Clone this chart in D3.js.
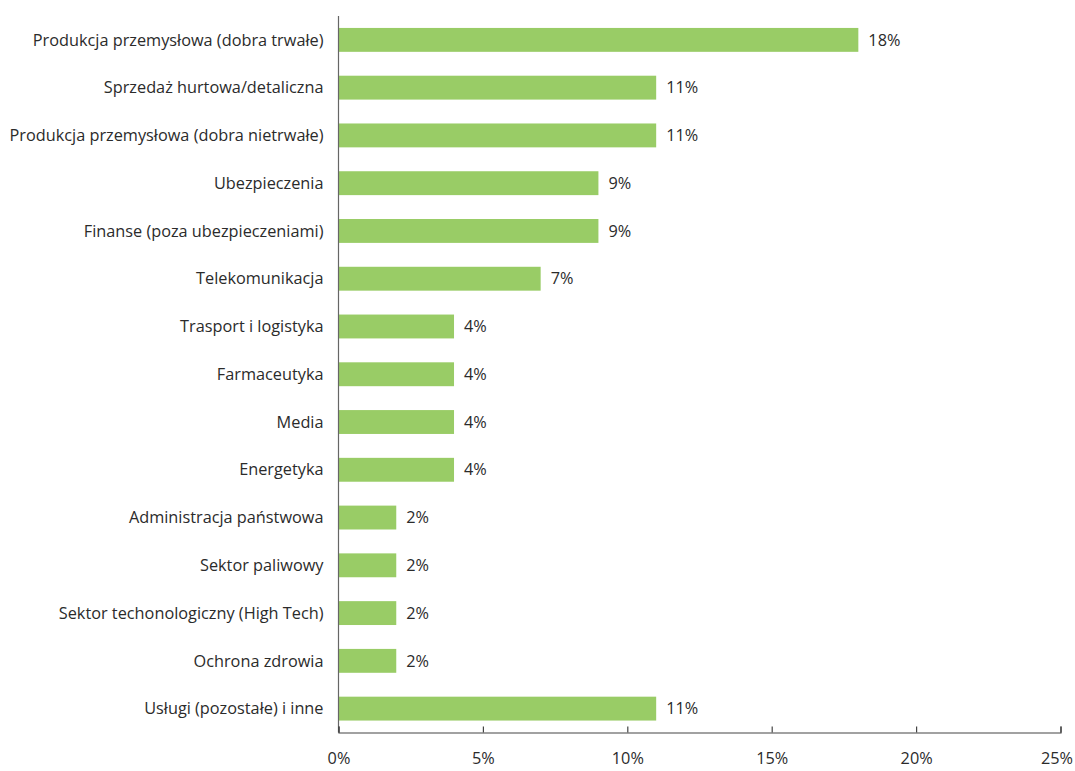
<!DOCTYPE html>
<html>
<head>
<meta charset="utf-8">
<script src="https://cdn.jsdelivr.net/npm/d3@7"></script>
<style>
  html, body { margin: 0; padding: 0; background: #fff; }
  svg { display: block; font-family: "Open Sans", "Noto Sans", sans-serif; }
</style>
</head>
<body>
<svg id="chart" width="1075" height="771"></svg>
<script>
// Sector breakdown (share of total, %)
const categories = [
  "Produkcja przemysłowa (dobra trwałe)",
  "Sprzedaż hurtowa/detaliczna",
  "Produkcja przemysłowa (dobra nietrwałe)",
  "Ubezpieczenia",
  "Finanse (poza ubezpieczeniami)",
  "Telekomunikacja",
  "Trasport i logistyka",
  "Farmaceutyka",
  "Media",
  "Energetyka",
  "Administracja państwowa",
  "Sektor paliwowy",
  "Sektor techonologiczny (High Tech)",
  "Ochrona zdrowia",
  "Usługi (pozostałe) i inne"
];
const values = [18, 11, 11, 9, 9, 7, 4, 4, 4, 4, 2, 2, 2, 2, 11];
const tickValues = [0, 5, 10, 15, 20, 25];

const svg = d3.select("#chart");
const x0 = 338.5, x1 = 1060.5, yTop = 16, yBottom = 732.5;

const x = d3.scaleLinear().domain([0, 25]).range([x0, x1]);
const y = d3.scaleBand().domain(categories).range([yTop, yBottom])
  .paddingInner(0.5).paddingOuter(0.25);

const data = categories.map((c, i) => ({ c, v: values[i] }));

// bars
svg.append("g").selectAll("rect").data(data).join("rect")
  .attr("x", x(0))
  .attr("y", d => y(d.c))
  .attr("width", d => x(d.v) - x(0))
  .attr("height", y.bandwidth())
  .attr("fill", "#99CC66");

// value labels
svg.append("g").selectAll("text").data(data).join("text")
  .attr("x", d => x(d.v) + 10)
  .attr("y", d => y(d.c) + y.bandwidth() / 2)
  .attr("dy", "0.35em")
  .attr("font-size", 16.3)
  .attr("fill", "#2b2b2b")
  .text(d => d.v + "%");

// category labels
svg.append("g").selectAll("text").data(data).join("text")
  .attr("x", x0 - 15)
  .attr("y", d => y(d.c) + y.bandwidth() / 2)
  .attr("dy", "0.35em")
  .attr("text-anchor", "end")
  .attr("font-size", 16.3)
  .attr("fill", "#2b2b2b")
  .text(d => d.c);

// vertical axis line
svg.append("line")
  .attr("x1", x0).attr("x2", x0)
  .attr("y1", yTop).attr("y2", yBottom)
  .attr("stroke", "#666").attr("stroke-width", 1.2);

// x axis with ticks pointing up
const xAxis = d3.axisBottom(x).tickValues(tickValues)
  .tickFormat(d => d + "%").tickSize(-6).tickPadding(20);
const gx = svg.append("g").attr("transform", `translate(0,${yBottom})`).call(xAxis);
gx.select(".domain").attr("stroke", "#444").attr("stroke-width", 1.2);
gx.selectAll(".tick line").attr("stroke", "#444").attr("stroke-width", 1.2);
gx.selectAll(".tick text")
  .attr("font-size", 16.3)
  .attr("font-family", "\"Open Sans\", \"Noto Sans\", sans-serif")
  .attr("fill", "#2b2b2b")
  .attr("text-anchor", d => d === 25 ? "end" : "middle")
  .attr("dx", d => d === 25 ? "12" : "0");
</script>
</body>
</html>
